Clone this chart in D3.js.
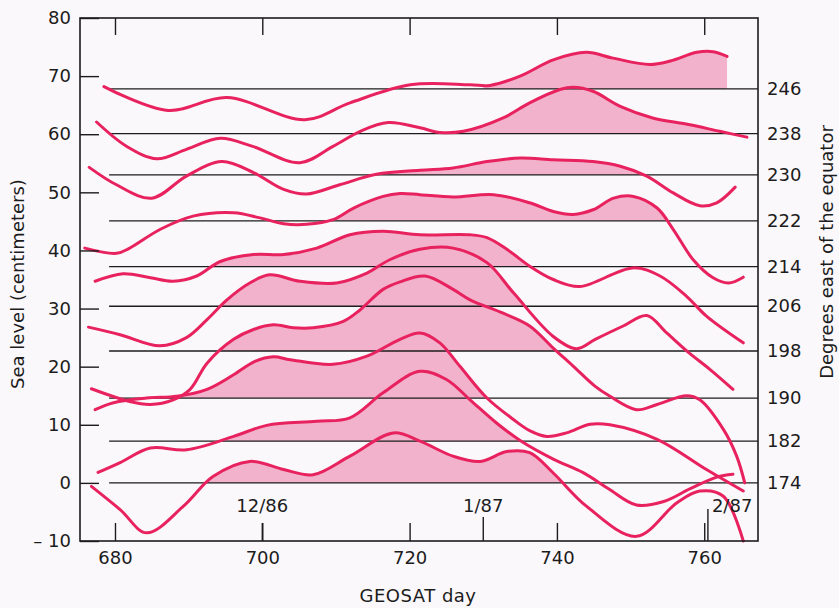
<!DOCTYPE html>
<html>
<head>
<meta charset="utf-8">
<script src="https://cdn.jsdelivr.net/npm/d3@7"></script>
<style>
  body { margin: 0; background: #fbf8fb; }
  svg text { font-family: "DejaVu Sans", sans-serif; fill: #1c1c1c; }
</style>
</head>
<body>
<div id="chart"></div>
<script>
// longitude of each record and the sea level (cm) its curve is offset to
const longitudes = [174, 182, 190, 198, 206, 214, 222, 230, 238, 246];
const baselines = [0, 7.2, 14.6, 22.7, 30.4, 37.2, 45.1, 53.0, 60.1, 67.8];
// shaded stretch (GEOSAT day) of each record, where it stands above its baseline
const fillFrom = [690, 690, 688, 690, 690, 688, 707, 713, 726, 730];
const fillTo = [745, 745, 740, 745, 745, 745, 760, 760, 767, 767];

const yTicks = [-10, 0, 10, 20, 30, 40, 50, 60, 70, 80];
const xTicks = [680, 700, 720, 740, 760];
const monthLabels = ["12/86", "1/87", "2/87"];
const monthDays = [700, 730, 760.5];

// [GEOSAT day, sea level cm]
const s174 = [[676.8,-0.6],[680.7,-4.6],[684.3,-8.6],[689.3,-4.0],[693.3,1.1],[698.3,3.7],[702.9,2.3],[706.9,1.4],[711.9,4.6],[717.8,8.6],[721.4,7.2],[725.9,4.6],[729.6,3.7],[733.2,5.4],[736.3,5.2],[739.5,1.7],[744.0,-4.0],[750.8,-9.2],[756.3,-3.4],[759.4,-1.4],[762.6,-2.3],[765.3,-10.0]];
const s182 = [[677.7,1.8],[680.7,3.5],[684.8,6.0],[689.7,5.7],[696.1,8.0],[700.6,9.9],[707.4,10.6],[711.9,11.2],[716.4,15.5],[721.4,19.2],[725.0,17.8],[728.2,14.3],[731.8,10.3],[735.0,7.3],[739.5,4.1],[743.5,1.8],[747.0,-1.0],[750.8,-3.8],[754.5,-3.2],[758.1,-1.0],[761.7,1.0],[763.9,1.5]];
const s190 = [[677.3,12.6],[679.8,13.8],[684.3,14.6],[688.4,14.9],[692.5,16.1],[696.1,18.6],[699.0,20.9],[701.5,21.7],[703.8,21.2],[709.6,20.4],[714.2,21.8],[718.7,24.7],[721.4,25.8],[724.1,24.1],[726.8,20.1],[730.5,14.6],[734.1,10.9],[736.3,9.0],[738.6,8.0],[741.3,8.6],[744.5,10.1],[747.2,10.0],[753.6,7.5],[760.3,2.3],[765.3,-1.4]];
const s198 = [[676.8,16.2],[682.0,14.0],[684.8,13.5],[687.9,14.3],[690.2,16.1],[692.5,20.6],[696.1,24.7],[698.8,26.4],[701.5,27.2],[704.2,26.7],[706.9,26.7],[711.0,27.8],[713.3,29.8],[716.4,33.3],[718.7,34.6],[722.1,35.6],[725.9,33.3],[728.2,31.5],[732.7,29.2],[736.3,27.0],[739.5,23.2],[742.2,20.1],[745.2,16.6],[747.2,14.9],[750.8,12.6],[753.6,13.5],[757.6,15.0],[759.4,14.3],[762.6,9.2],[764.4,4.6],[765.5,0.0]];
const s206 = [[676.4,26.8],[680.7,25.5],[686.1,23.6],[689.7,25.0],[692.5,28.1],[695.2,31.5],[698.3,34.4],[701.0,35.8],[705.1,34.7],[710.1,34.4],[714.2,36.1],[717.3,38.4],[721.4,40.2],[725.9,40.4],[730.5,37.9],[734.1,32.7],[739.5,25.2],[742.7,23.1],[745.2,24.7],[749.0,27.0],[752.2,28.8],[754.9,25.8],[757.9,22.4],[760.8,19.5],[763.9,16.1]];
const s214 = [[677.3,34.7],[681.1,36.0],[684.8,35.3],[687.9,34.7],[691.1,35.6],[694.3,38.1],[698.8,39.3],[702.9,39.3],[707.4,40.4],[711.9,42.7],[716.4,43.3],[721.4,42.7],[728.2,42.7],[730.5,42.2],[733.2,40.2],[736.3,37.3],[739.5,35.0],[743.1,33.8],[750.3,37.0],[754.0,35.6],[757.6,32.1],[760.3,28.7],[765.3,24.1]];
const s222 = [[675.9,40.4],[680.2,39.5],[682.0,40.4],[686.1,43.6],[690.6,45.9],[696.1,46.5],[699.7,45.6],[702.9,44.6],[706.0,44.5],[709.6,45.3],[712.4,47.3],[716.4,49.3],[718.7,49.8],[721.4,49.6],[725.9,49.2],[731.4,49.6],[736.3,48.2],[739.5,46.7],[742.2,46.2],[744.9,47.0],[747.7,49.0],[750.4,49.3],[753.6,47.3],[755.8,43.6],[758.5,38.4],[761.2,35.3],[763.3,34.4],[765.3,35.4]];
const s230 = [[676.5,54.3],[680.2,51.3],[685.0,49.0],[689.7,52.8],[694.5,55.3],[698.8,53.4],[702.9,50.5],[706.0,49.7],[710.5,51.3],[715.5,53.1],[721.4,53.8],[725.9,54.2],[730.5,55.3],[735.0,55.9],[739.5,55.6],[744.9,55.3],[748.6,54.5],[752.2,52.8],[755.8,49.9],[759.4,47.7],[761.7,48.2],[764.2,50.9]];
const s238 = [[677.5,62.1],[681.6,57.9],[685.7,55.8],[689.7,57.4],[694.3,59.3],[698.7,57.9],[705.1,55.1],[709.6,57.9],[713.3,60.5],[717.1,62.0],[721.4,61.1],[724.1,60.3],[727.3,60.5],[732.7,62.8],[736.3,65.4],[740.4,67.7],[742.2,68.1],[744.9,67.4],[748.6,64.8],[753.0,62.8],[757.7,61.7],[762.1,60.5],[765.8,59.5]];
const s246 = [[678.5,68.2],[687.2,64.1],[695.2,66.3],[705.8,62.5],[711.9,65.4],[720.1,68.5],[728.2,68.5],[730.9,68.4],[735.0,70.0],[739.5,72.8],[744.0,74.1],[747.6,73.1],[752.6,72.0],[755.4,72.6],[759.0,74.1],[761.2,74.2],[763.1,73.4]];
const series = [s174, s182, s190, s198, s206, s214, s222, s230, s238, s246];

const width = 839, height = 608;
const margin = { top: 18, right: 81, bottom: 67, left: 80 };
const lineColor = "#e8225f", fillColor = "#f2b2cb", ink = "#1c1c1c";

const x = d3.scaleLinear().domain([675.25, 767.3]).range([margin.left, width - margin.right]);
const y = d3.scaleLinear().domain([-10, 80]).range([height - margin.bottom, margin.top]);
const baseStart = 679.2;

const svg = d3.select("#chart").append("svg")
  .attr("width", width)
  .attr("height", height);

const defs = svg.append("defs");

// shaded areas between each curve and its baseline
const area = d3.area().curve(d3.curveCatmullRom.alpha(0.5)).x(d => x(d[0])).y1(d => y(d[1]));
series.forEach((s, i) => {
  const base = y(baselines[i]);
  defs.append("clipPath").attr("id", "clip" + i)
    .append("rect")
    .attr("x", x(fillFrom[i]))
    .attr("y", 0)
    .attr("width", x(fillTo[i]) - x(fillFrom[i]))
    .attr("height", base);
  svg.append("path")
    .attr("clip-path", `url(#clip${i})`)
    .attr("fill", fillColor)
    .attr("d", area.y0(base)(s));
});

// baselines
svg.append("g").selectAll("line").data(baselines).join("line")
  .attr("x1", x(baseStart)).attr("x2", x.range()[1])
  .attr("y1", d => y(d)).attr("y2", d => y(d))
  .attr("stroke", ink).attr("stroke-width", 1.3);

// curves
const line = d3.line().curve(d3.curveCatmullRom.alpha(0.5)).x(d => x(d[0])).y(d => y(d[1]));
svg.append("g").selectAll("path").data(series).join("path")
  .attr("fill", "none")
  .attr("stroke", lineColor)
  .attr("stroke-width", 3)
  .attr("stroke-linecap", "round")
  .attr("d", line);

// frame
svg.append("rect")
  .attr("x", x.range()[0]).attr("y", y.range()[1])
  .attr("width", x.range()[1] - x.range()[0])
  .attr("height", y.range()[0] - y.range()[1])
  .attr("fill", "none").attr("stroke", ink).attr("stroke-width", 1.6);

function styleAxis(g) {
  g.select(".domain").remove();
  g.selectAll("line").attr("stroke", ink).attr("stroke-width", 1.4);
  g.selectAll("text").attr("font-size", 18).attr("font-family", "DejaVu Sans, sans-serif").attr("fill", ink);
}

svg.append("g")
  .attr("transform", `translate(${x.range()[0]},0)`)
  .call(d3.axisLeft(y).tickValues(yTicks).tickSizeInner(-19).tickSizeOuter(0).tickPadding(9)
    .tickFormat(d => d < 0 ? "\u2013 " + Math.abs(d) : d))
  .call(styleAxis);

svg.append("g")
  .attr("transform", `translate(0,${y.range()[0]})`)
  .call(d3.axisBottom(x).tickValues(xTicks).tickSizeInner(-18).tickSizeOuter(0).tickPadding(10))
  .call(styleAxis);

svg.append("g")
  .attr("transform", `translate(0,${y.range()[1]})`)
  .call(d3.axisTop(x).tickValues(xTicks).tickSizeInner(-17).tickSizeOuter(0).tickFormat(""))
  .call(styleAxis);

svg.append("g")
  .attr("transform", `translate(${x.range()[1]},0)`)
  .call(d3.axisRight(y).tickValues(baselines).tickSize(0).tickPadding(9)
    .tickFormat((d, i) => longitudes[i]))
  .call(styleAxis);

// month marks along the bottom
const monthTick = [18, 24, 32];
const months = svg.append("g");
monthDays.forEach((d, i) => {
  months.append("line")
    .attr("x1", x(d)).attr("x2", x(d))
    .attr("y1", y.range()[0]).attr("y2", y.range()[0] - monthTick[i])
    .attr("stroke", ink).attr("stroke-width", 1.4);
  months.append("text")
    .attr("x", i === 2 ? x(d) + 4 : x(d))
    .attr("y", 512)
    .attr("text-anchor", i === 2 ? "start" : "middle")
    .attr("font-size", 18)
    .text(monthLabels[i]);
});

// axis titles
svg.append("text")
  .attr("transform", "translate(24,284) rotate(-90)")
  .attr("text-anchor", "middle")
  .attr("font-size", 18)
  .text("Sea level (centimeters)");

svg.append("text")
  .attr("transform", "translate(833,252) rotate(-90)")
  .attr("text-anchor", "middle")
  .attr("font-size", 18)
  .text("Degrees east of the equator");

svg.append("text")
  .attr("x", 418).attr("y", 602)
  .attr("text-anchor", "middle")
  .attr("font-size", 18)
  .attr("letter-spacing", 0.5)
  .text("GEOSAT day");
</script>
</body>
</html>
